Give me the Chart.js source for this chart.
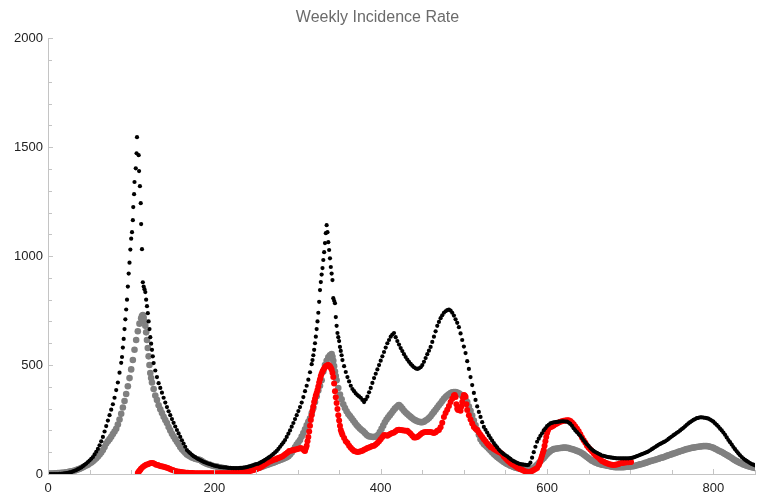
<!DOCTYPE html>
<html>
<head>
<meta charset="utf-8">
<script src="https://cdn.jsdelivr.net/npm/chart.js"></script>
<style>
  html, body { margin: 0; padding: 0; background: #fff; }
  #wrap { width: 760px; height: 495px; }
</style>
</head>
<body>
<div id="wrap"><canvas id="chart" width="760" height="495"></canvas></div>
<script>
// [day, rate] pairs
const blackPts = [
  [0,0],[2,0],[4,0],[6,0],[8,0],[10,0],[12,0],[14,1],[16,1],[18,2],[20,3],[22,4],[24,5],[26,7],[28,9],[30,12],
  [32,15],[34,18],[36,22],[38,26],[40,30],[42,36],[44,42],[46,48],[48,55],[50,62],[52,70],[54,78],[56,90],[58,102],
  [60,115],[62,132],[64,150],[66,170],[68,195],[70,220],[72,245],[74,270],[76,295],[78,320],[80,350],[82,385],[84,420],[86,465],[88,510],
  [89,537],[90,580],[91,620],[92,665],[93,710],[94,755],[95,800],[96,860],[97,920],[98,970],[99,1030],[100,1080],[101,1110],[102,1165],
  [102.5,1225],[103.5,1284],[104,1340],[105.5,1403],[106.5,1472],[107,1546],[109,1463],[109.5,1390],[110.5,1321],[111.5,1243],[112,1147],
  [113,1032],[114,880],[115,860],[116,848],[117,835],[118,800],[119,770],[120,738],[121,700],[122,665],[123,628],[124,598],[125,570],[126,540],[127,509],
  [129,475],[131,445],[133,417],[135,395],[137,373],[139,350],[141,328],[143,307],[145,288],[147,270],[149,252],[151,235],[153,218],[155,202],
  [157,186],[159,170],[161,155],[163,140],[165,125],[167,110],[169,102],[171,95],[173,88],[175,82],[177,77],[179,72],[181,68],[183,64],[185,60],
  [187,56],[189,53],[191,50],[193,47],[195,45],[197,42],[199,40],[201,37],[203,36],[205,34],[207,32],[209,31],[211,30],[213,30],[215,29],[217,28],
  [219,28],[221,27],[223,27],[225,27],[227,27],[229,27],[231,28],[233,28],[235,29],[237,30],[239,32],[241,34],[243,36],[245,38],[247,41],[249,44],
  [251,46],[253,48],[255,52],[257,56],[259,60],[261,65],[263,70],[265,75],[267,80],[269,86],[271,92],[273,99],[275,106],[277,115],[279,125],
  [281,135],[283,145],[285,156],[287,170],[289,185],[291,200],[293,217],[295,234],[297,252],[299,270],[301,289],[303,307],[305,328],[307,353],
  [309,380],[311,405],[313,433],[315,467],[317,504],
  [318,523],[319,545],[320,570],[321,600],[322,630],[323,665],[324,700],[325,740],[326,790],[327,844],[328,881],[329,915],[330,945],[331,982],
  [332,1018],[333,1060],[334,1105],[335,1142],[336,1110],[337,1064],[338,1028],[339,990],[340,950],[341,920],[342,890],[343,807],[344,795],
  [345,784],[346,720],[347,680],[348,647],[349,628],[350,610],[351,583],[352,565],[353,545],[354,523],
  [356,495],[358,468],[360,445],[362,425],[364,405],[366,390],[368,380],[370,370],[372,362],[374,356],[376,350],[378,340],[380,330],[382,342],
  [384,355],[386,375],[388,395],[390,418],[392,440],[394,460],[396,480],[398,500],[400,520],[402,540],[404,560],[406,580],[408,600],[410,615],
  [412,630],[414,640],[416,647],[418,628],[420,610],[422,594],[424,578],[426,564],[428,550],[430,537],[432,525],[434,515],[436,505],[438,497],
  [440,490],[442,485],[444,482],[446,485],[448,490],[450,500],[452,515],[454,532],[456,550],[458,566],[460,583],[462,606],[464,630],[466,655],
  [468,680],[470,698],[472,715],[474,728],[476,740],[478,747],[480,752],[482,755],[484,750],[486,740],[488,727],[490,710],[492,694],[494,674],
  [496,645],[498,615],[500,585],[502,555],[504,518],[506,482],[508,445],[510,408],[512,372],[514,340],[516,310],[518,285],[520,262],[522,238],
  [524,216],[526,203],[528,190],[530,177],[532,165],[534,153],[536,142],[538,132],[540,122],[542,112],[544,104],[546,97],[548,91],[550,86],
  [552,81],[554,75],[556,69],[558,63],[560,59],[562,55],[564,51],[566,48],[568,46],[570,44],[572,43],[574,42],[576,41],[578,42],[580,52],
  [582,75],[584,100],[586,125],[588,148],[590,162],[592,175],[594,187],[596,200],[598,210],[600,220],[602,226],[604,232],[606,235],[608,237],
  [610,238],[612,239],[614,240],[616,241],[618,242],[620,242],[622,241],[624,240],[626,236],[628,230],[630,221],[632,210],[634,200],[636,192],
  [638,183],[640,175],[642,165],[644,155],[646,145],[648,136],[650,128],[652,119],[654,112],[656,106],[658,101],[660,97],[662,93],[664,89],
  [666,85],[668,83],[670,81],[672,79],[674,77],[676,76],[678,75],[680,74],[682,73],[684,72],[686,72],[688,72],[690,72],[692,72],[694,72],
  [696,72],[698,72],[700,73],[702,74],[704,76],[706,79],[708,82],[710,85],[712,88],[714,91],[716,94],[718,97],[720,100],[722,104],[724,109],
  [726,114],[728,119],[730,124],[732,129],[734,134],[736,138],[738,142],[740,146],[742,150],[744,155],[746,161],[748,167],[750,172],[752,178],
  [754,183],[756,189],[758,194],[760,200],[762,206],[764,212],[766,219],[768,226],[770,232],[772,238],[774,243],[776,248],[778,252],[780,256],
  [782,258],[784,260],[786,260],[788,259],[790,258],[792,256],[794,254],[796,250],[798,245],[800,240],[802,232],[804,225],[806,217],[808,208],
  [810,200],[812,190],[814,180],[816,168],[818,156],[820,146],[822,135],[824,124],[826,114],[828,104],[830,95],[832,86],[834,78],[836,71],
  [838,65],[840,60],[842,55],[844,50],[846,46],[848,43],[850,40]
];

const grayPts = [
  [0,2],[2,2],[4,2],[6,2],[8,3],[10,3],[12,4],[14,4],[16,5],[18,6],[20,7],[22,8],[24,9],[26,11],[28,12],[30,14],[32,16],[34,18],[36,21],[38,24],
  [40,27],[42,31],[44,35],[46,39],[48,43],[50,48],[52,53],[54,59],[56,65],[58,72],[60,80],[62,89],[64,99],[66,110],[68,124],[70,140],[72,150],
  [74,160],[76,171],[78,183],[80,195],[82,208],[84,227],[86,250],[88,276],[90,305],[92,335],[94,367],[96,403],[98,440],[100,480],[102,523],
  [104,570],[106,615],[108,655],[110,690],[112,715],[113,725],[114,730],[115,718],[116,700],[117,680],[118,650],[119,615],[120,578],[121,540],
  [122,500],[123,463],[124,440],[125,420],[127,390],[129,360],[131,340],[133,315],[135,297],[137,280],[139,263],[141,248],[143,234],[145,216],
  [147,200],[149,185],[151,172],[153,160],[155,148],[157,136],[159,124],[161,114],[163,105],[165,97],[167,90],[169,85],[171,80],[173,76],[175,73],
  [177,70],[179,68],[181,66],[183,64],[185,59],[187,54],[189,50],[191,47],[193,44],[195,42],[197,39],[199,37],[201,35],[203,34],[205,32],[207,31],
  [209,29],[211,27],[213,26],[215,24],[217,23],[219,21],[221,20],[223,18],[225,17],[227,15],[229,14],[231,13],[233,13],[235,13],[237,14],[239,15],
  [241,16],[243,18],[245,20],[247,22],[249,24],[251,26],[253,28],[255,30],[257,33],[259,36],[261,39],[263,41],[265,44],[267,47],[269,49],[271,52],
  [273,55],[275,58],[277,61],[279,64],[281,67],[283,70],[285,74],[287,77],[289,82],[291,90],[293,99],[295,110],[297,122],[299,135],[301,146],
  [303,156],[305,172],[307,188],[309,205],[311,223],[313,240],[315,255],[317,278],[319,303],[321,330],[323,357],[325,383],[327,405],[329,430],
  [331,470],[333,500],[335,520],[337,535],[339,545],[341,550],[342,538],[343,520],[344,495],[345,470],[346,450],[347,430],[349,395],[351,365],
  [353,343],[355,320],[357,303],[359,288],[361,275],[363,266],[365,256],[367,245],[369,235],[371,225],[373,217],[375,209],[377,202],[379,196],
  [381,188],[383,180],[385,174],[387,172],[389,171],[391,170],[393,171],[395,173],[397,180],[399,193],[401,207],[403,222],[405,237],[407,250],
  [409,260],[411,270],[413,280],[415,290],[417,300],[419,307],[421,314],[422,317],[424,310],[426,300],[428,290],[430,282],[432,275],[434,268],
  [436,262],[438,256],[440,250],[442,246],[444,242],[446,240],[448,238],[450,238],[452,240],[454,245],[456,250],[458,257],[460,265],[462,275],
  [464,285],[466,295],[468,305],[470,315],[472,325],[474,335],[476,345],[478,353],[480,360],[482,366],[484,372],[486,375],[488,376],[490,376],
  [492,374],[494,370],[496,365],[498,358],[500,350],[502,340],[504,330],[506,310],[508,290],[510,268],[512,245],[514,223],[516,202],[518,180],
  [520,160],[522,148],[524,138],[526,131],[528,124],[530,116],[532,108],[534,100],[536,92],[538,85],[540,78],[542,72],[544,67],[546,61],[548,55],
  [550,50],[552,46],[554,42],[556,38],[558,35],[560,32],[562,29],[564,27],[566,25],[568,23],[570,22],[572,21],[574,20],[576,19],[578,19],[580,20],
  [582,24],[584,28],[586,35],[588,42],[590,50],[592,58],[594,66],[596,74],[598,83],[600,92],[602,99],[604,105],[606,110],[608,114],[610,116],
  [612,117],[614,118],[616,119],[618,120],[620,121],[622,121],[624,120],[626,119],[628,116],[630,114],[632,112],[634,109],[636,106],[638,103],
  [640,100],[642,95],[644,90],[646,84],[648,78],[650,72],[652,66],[654,61],[656,57],[658,53],[660,50],[662,47],[664,45],[666,43],[668,41],[670,40],
  [672,38],[674,37],[676,35],[678,33],[680,32],[682,31],[684,31],[686,31],[688,31],[690,31],[692,31],[694,32],[696,33],[698,33],[700,34],[702,35],
  [704,36],[706,38],[708,40],[710,42],[712,44],[714,46],[716,48],[718,51],[720,53],[722,56],[724,59],[726,61],[728,63],[730,65],[732,68],[734,70],
  [736,73],[738,75],[740,77],[742,80],[744,83],[746,86],[748,88],[750,91],[752,94],[754,96],[756,99],[758,102],[760,104],[762,107],[764,109],
  [766,112],[768,114],[770,116],[772,118],[774,120],[776,121],[778,123],[780,124],[782,125],[784,126],[786,127],[788,128],[790,128],[792,128],
  [794,127],[796,125],[798,123],[800,120],[802,116],[804,112],[806,108],[808,104],[810,101],[812,96],[814,92],[816,87],[818,83],[820,78],[822,73],
  [824,68],[826,63],[828,59],[830,55],[832,51],[834,48],[836,44],[838,41],[840,38],[842,36],[844,33],[846,31],[848,30],[850,28]
];

const redPts = [
  [108,5],[109,10],[110,15],[111,20],[112,25],[114,32],[116,38],[118,42],[120,45],[122,48],[124,50],[126,50],[128,47],[130,43],[132,41],[134,38],
  [136,36],[138,34],[140,32],[142,30],[144,27],[146,24],[148,21],[150,18],[152,15],[154,13],[156,11],[158,10],[160,9],[162,8],[164,7],[166,6],
  [168,6],[170,5],[172,5],[174,5],[176,4],[178,4],[180,4],[182,4],[184,4],[186,3],[188,3],[190,3],[192,3],[194,3],[196,3],[198,3],[200,3],[202,3],
  [204,3],[206,3],[208,3],[210,4],[212,4],[214,4],[216,4],[218,4],[220,4],[222,5],[224,5],[226,5],[228,6],[230,7],[232,8],[234,9],[236,10],
  [238,11],[240,12],[242,13],[244,15],[246,17],[248,20],[250,22],[252,25],[254,28],[256,32],[258,37],[260,42],[262,47],[264,52],[266,56],[268,60],
  [270,63],[272,66],[274,68],[276,72],[278,75],[280,78],[282,82],[284,87],[286,93],[288,99],[290,105],[292,107],[294,109],[296,111],[298,113],
  [300,115],[302,117],[304,119],[306,115],[308,108],[309,105],[310,118],[311,130],[312,150],[313,170],[314,195],[315,222],[316,248],[317,270],
  [318,290],[319,310],[320,330],[321,345],[322,360],[323,372],[324,385],[325,402],[326,420],[327,435],[328,450],[329,460],[330,470],[331,477],
  [332,484],[333,490],[334,494],[335,497],[336,499],[337,500],[338,498],[339,495],[340,488],[341,480],[342,465],[343,445],[344,415],[345,380],
  [346,352],[347,326],[348,298],[349,270],[350,245],[351,222],[352,202],[353,190],[354,180],[356,165],[358,150],[360,142],[362,130],[364,120],
  [366,112],[368,106],[370,103],[372,101],[374,102],[376,104],[378,107],[380,111],[382,115],[384,119],[386,122],[388,125],[390,128],[392,130],
  [394,135],[396,142],[398,150],[400,160],[402,170],[404,179],[406,178],[408,175],[410,180],[412,185],[414,188],[416,190],[418,196],[420,202],
  [422,203],[424,202],[426,201],[428,200],[430,199],[432,198],[434,192],[436,185],[438,176],[440,168],[442,168],[444,170],[446,176],[448,182],
  [450,188],[452,192],[454,193],[456,193],[458,193],[460,193],[462,190],[464,188],[466,192],[468,198],[470,202],[472,215],[474,235],[476,262],
  [478,280],[480,295],[482,312],[484,330],[486,345],[488,360],[489,362],[490,353],[491,320],[492,300],[493,294],[494,303],[495,300],[496,290],
  [497,310],[498,330],[499,350],[500,362],[501,360],[502,355],[503,320],[504,294],[506,270],[508,250],[510,232],[512,216],[514,208],[516,202],
  [518,190],[520,180],[522,170],[524,160],[526,150],[528,140],[530,132],[532,124],[534,120],[536,115],[538,110],[540,105],[542,101],[544,97],
  [546,92],[548,80],[550,72],[552,64],[554,57],[556,50],[558,45],[560,41],[562,35],[564,30],[566,26],[568,22],[570,19],[572,15],[574,12],[576,10],
  [578,9],[580,10],[582,14],[584,18],[586,23],[588,28],[590,40],[591,50],[592,60],[593,72],[594,85],[595,97],[596,110],[597,130],[598,150],
  [599,170],[600,188],[601,200],[602,210],[604,214],[606,218],[608,223],[610,228],[612,232],[614,236],[616,240],[618,242],[620,244],[622,246],
  [624,247],[626,247],[628,243],[630,236],[632,228],[634,218],[636,208],[638,196],[640,182],[642,168],[644,155],[646,143],[648,130],[650,120],
  [652,112],[654,104],[656,95],[658,86],[660,80],[662,75],[664,66],[666,60],[668,56],[670,52],[672,49],[674,46],[676,44],[678,42],[680,41],
  [682,42],[684,44],[686,46],[688,49],[690,51],[692,52],[694,53],[696,54],[698,54],[700,55],[701,55]
];

const xTickStep = 200;
const yTickStep = 500;
const titleText = 'Weekly Incidence Rate';

function toPoints(pts) {
  return pts.map(p => ({ x: p[0], y: p[1] }));
}

// small inward tick marks like the reference frame
const minorTicks = {
  id: 'minorTicks',
  afterDraw(chart) {
    const ctx = chart.ctx;
    const xs = chart.scales.x, ys = chart.scales.y;
    const left = chart.chartArea.left, bottom = chart.chartArea.bottom;
    ctx.save();
    ctx.strokeStyle = '#c4c4c4';
    ctx.lineWidth = 1;
    ctx.beginPath();
    for (let v = 0; v <= 2000; v += 100) {
      const py = Math.round(ys.getPixelForValue(v)) + 0.5;
      const len = v % 500 === 0 ? 5 : 4;
      ctx.moveTo(left, py);
      ctx.lineTo(left + len, py);
    }
    for (let v = 0; v <= 850; v += 50) {
      const px = Math.round(xs.getPixelForValue(v)) + 0.5;
      const len = v % 200 === 0 ? 5 : 4;
      ctx.moveTo(px, bottom);
      ctx.lineTo(px, bottom - len);
    }
    ctx.stroke();
    ctx.restore();
  }
};

const fontFamily = '"Liberation Sans", Arial, sans-serif';

new Chart(document.getElementById('chart'), {
  type: 'scatter',
  data: {
    datasets: [
      { label: 'black', data: toPoints(blackPts), backgroundColor: '#000', pointRadius: 2.1, pointBorderWidth: 0 },
      { label: 'red', data: toPoints(redPts), backgroundColor: '#ff0000', pointRadius: 3, pointBorderWidth: 0 },
      { label: 'gray', data: toPoints(grayPts), backgroundColor: '#808080', pointRadius: 3.3, pointBorderWidth: 0 }
    ]
  },
  options: {
    responsive: false,
    animation: false,
    layout: { padding: { left: 0, right: 5, top: 0, bottom: 0 } },
    plugins: {
      legend: { display: false },
      tooltip: { enabled: false },
      title: {
        display: true,
        text: titleText,
        color: '#6b6b6b',
        font: { family: fontFamily, size: 16, weight: 'normal' },
        padding: { top: 8, bottom: 11 }
      }
    },
    scales: {
      x: {
        type: 'linear',
        min: 0, max: 850,
        grid: { display: false, drawTicks: false },
        border: { display: true, color: '#c4c4c4' },
        afterFit(scale) { scale.height = 21; },
        ticks: {
          stepSize: xTickStep,
          includeBounds: false,
          padding: 7,
          color: '#222',
          maxRotation: 0,
          callback: v => String(v),
          font: { family: fontFamily, size: 13 }
        }
      },
      y: {
        type: 'linear',
        min: 0, max: 2000,
        grid: { display: false, drawTicks: false },
        border: { display: true, color: '#c4c4c4' },
        afterFit(scale) { scale.width = 48; },
        ticks: {
          stepSize: yTickStep,
          padding: 5,
          color: '#222',
          callback: v => String(v),
          font: { family: fontFamily, size: 13 }
        }
      }
    }
  },
  plugins: [minorTicks]
});
</script>
</body>
</html>
